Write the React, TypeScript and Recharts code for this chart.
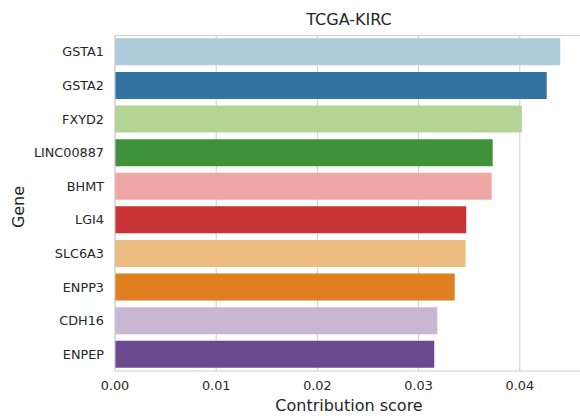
import { BarChart, Bar, XAxis, YAxis, CartesianGrid, Cell } from 'recharts';

const genes = ['GSTA1', 'GSTA2', 'FXYD2', 'LINC00887', 'BHMT', 'LGI4', 'SLC6A3', 'ENPP3', 'CDH16', 'ENPEP'];
const scores = [0.0440, 0.04266, 0.0402, 0.03732, 0.03722, 0.03471, 0.03465, 0.03357, 0.03185, 0.03155];
const xTicks = [0, 0.01, 0.02, 0.03, 0.04];
const xMax = 0.04595;

// matplotlib "Paired" palette, seaborn desaturates it to 0.75 for bars
const paired = ['#a6cee3', '#1f78b4', '#b2df8a', '#33a02c', '#fb9a99', '#e31a1c', '#fdbf6f', '#ff7f00', '#cab2d6', '#6a3d9a'];

const desaturate = (hex: string, prop: number) => {
  const r = parseInt(hex.slice(1, 3), 16) / 255;
  const g = parseInt(hex.slice(3, 5), 16) / 255;
  const b = parseInt(hex.slice(5, 7), 16) / 255;
  const max = Math.max(r, g, b);
  const min = Math.min(r, g, b);
  const l = (max + min) / 2;
  const d = max - min;
  let h = 0;
  let s = 0;
  if (d > 0) {
    s = l > 0.5 ? d / (2 - max - min) : d / (max + min);
    if (max === r) h = ((g - b) / d + (g < b ? 6 : 0)) / 6;
    else if (max === g) h = ((b - r) / d + 2) / 6;
    else h = ((r - g) / d + 4) / 6;
  }
  s *= prop;
  const hue2rgb = (p: number, q: number, t: number) => {
    if (t < 0) t += 1;
    if (t > 1) t -= 1;
    if (t < 1 / 6) return p + (q - p) * 6 * t;
    if (t < 1 / 2) return q;
    if (t < 2 / 3) return p + (q - p) * (2 / 3 - t) * 6;
    return p;
  };
  const q = l < 0.5 ? l * (1 + s) : l + s - l * s;
  const p = 2 * l - q;
  const toHex = (v: number) => Math.round(v * 255).toString(16).padStart(2, '0');
  return '#' + toHex(hue2rgb(p, q, h + 1 / 3)) + toHex(hue2rgb(p, q, h)) + toHex(hue2rgb(p, q, h - 1 / 3));
};

const colors = paired.map((c) => desaturate(c, 0.75));

const data = genes.map((gene, i) => ({ gene, score: scores[i] }));

const font = 'DejaVu Sans, sans-serif';
const textColor = '#262626';
const lineColor = '#d0d0d0';

const App = () => {
  return (
    <div style={{ position: 'absolute', left: 0, top: 0, width: 580, height: 416, overflow: 'hidden', background: '#fff', fontFamily: font }}>
      <div style={{ position: 'absolute', left: 115, width: 468, top: 10, textAlign: 'center', fontSize: 16, color: textColor }}>
        TCGA-KIRC
      </div>
      <div style={{ position: 'absolute', left: 115, width: 468, top: 396, textAlign: 'center', fontSize: 16, color: textColor }}>
        Contribution score
      </div>
      <div style={{ position: 'absolute', left: 18, top: 207, transform: 'translate(-50%, -50%) rotate(-90deg)', fontSize: 16, color: textColor, whiteSpace: 'nowrap' }}>
        Gene
      </div>
      {/* top spine of the axes */}
      <div style={{ position: 'absolute', left: 115, width: 465, top: 35, height: 1, background: lineColor }} />
      <BarChart
        width={580}
        height={416}
        data={data}
        layout="vertical"
        barCategoryGap="10%"
        margin={{ top: 35, right: 0, bottom: 0, left: 0 }}
      >
        <CartesianGrid horizontal={false} stroke={lineColor} syncWithTicks />
        <XAxis
          type="number"
          dataKey="score"
          domain={[0, xMax]}
          ticks={xTicks}
          tickFormatter={(v: number) => v.toFixed(2)}
          axisLine={{ stroke: lineColor }}
          tickLine={false}
          tickSize={0}
          tickMargin={10}
          tick={{ fontSize: 12.8, fill: textColor, fontFamily: font }}
          height={45}
          allowDataOverflow
        />
        <YAxis
          type="category"
          dataKey="gene"
          width={115}
          axisLine={{ stroke: lineColor }}
          tickLine={false}
          tickSize={0}
          tickMargin={11}
          interval={0}
          tick={{ fontSize: 12.8, fill: textColor, fontFamily: font }}
        />
        <Bar dataKey="score" isAnimationActive={false}>
          {data.map((d, i) => (
            <Cell key={d.gene} fill={colors[i]} />
          ))}
        </Bar>
      </BarChart>
    </div>
  );
};

export default App;
